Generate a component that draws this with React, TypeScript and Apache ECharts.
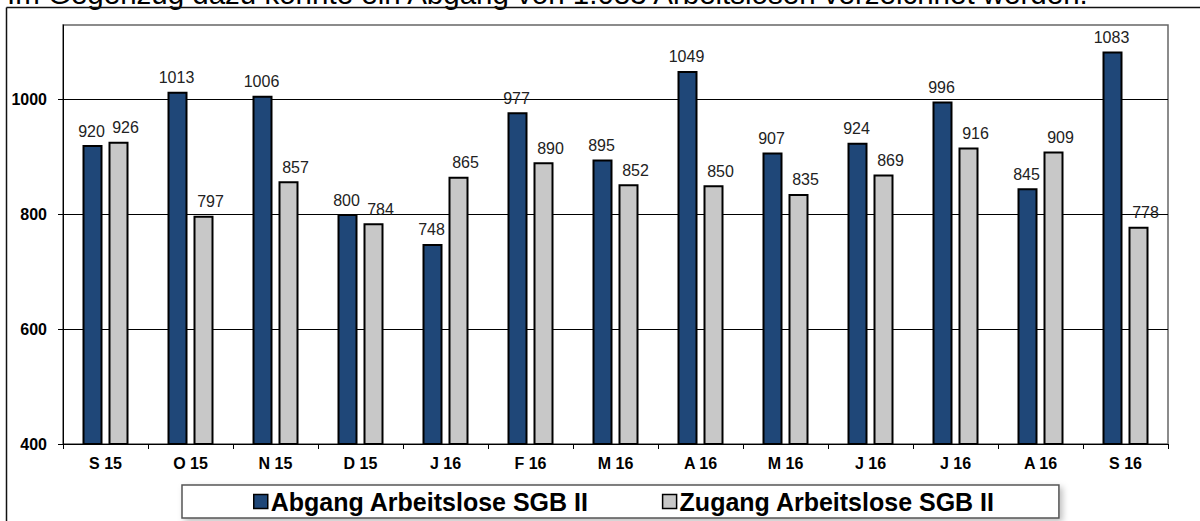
import React, { useEffect, useRef } from "react";
import * as echarts from "echarts";

const categories = ["S 15", "O 15", "N 15", "D 15", "J 16", "F 16", "M 16", "A 16", "M 16", "J 16", "J 16", "A 16", "S 16"];
const abgang = [920, 1013, 1006, 800, 748, 977, 895, 1049, 907, 924, 996, 845, 1083];
const zugang = [926, 797, 857, 784, 865, 890, 852, 850, 835, 869, 916, 909, 778];
const yTicks = [400, 600, 800, 1000];
const seriesNames = ["Abgang Arbeitslose SGB II", "Zugang Arbeitslose SGB II"];
const headline = "Im Gegenzug dazu konnte ein Abgang von 1.083 Arbeitslosen verzeichnet werden.";

const FONT = "'Liberation Sans', Arial, sans-serif";

export default function App() {
  const ref = useRef<HTMLDivElement>(null);
  useEffect(() => {
    if (!ref.current) return;
    const chart = echarts.init(ref.current, undefined, { renderer: "svg" });
    const labelStyle = {
      show: true,
      position: "top" as const,
      distance: 6,
      fontFamily: FONT,
      fontSize: 16,
      color: "#222",
    };
    chart.setOption({
      animation: false,
      backgroundColor: "#fff",
      textStyle: { fontFamily: FONT },
      grid: {
        left: 63,
        right: 32,
        top: 25,
        bottom: 77,
        show: true,
        borderColor: "#666",
        borderWidth: 1.5,
        backgroundColor: "transparent",
      },
      legend: {
        left: 182,
        top: 485,
        orient: "horizontal",
        padding: [4, 64, 4, 71],
        itemGap: 73,
        itemWidth: 14,
        itemHeight: 14,
        icon: "rect",
        borderColor: "#555",
        borderWidth: 1.5,
        backgroundColor: "#fff",
        shadowColor: "rgba(0,0,0,0.25)",
        shadowBlur: 6,
        shadowOffsetX: 3,
        shadowOffsetY: 3,
        itemStyle: { borderColor: "#000", borderWidth: 1.5 },
        textStyle: {
          fontFamily: FONT,
          fontSize: 25,
          fontWeight: "bold",
          color: "#000",
          lineHeight: 22,
          padding: [0, 0, 0, -2],
        },
        data: seriesNames,
      },
      xAxis: {
        type: "category",
        data: categories,
        axisLine: { show: true, lineStyle: { color: "#000", width: 1 } },
        axisTick: { show: true, alignWithLabel: false, length: 5, lineStyle: { color: "#000" } },
        axisLabel: {
          fontFamily: FONT,
          fontSize: 16,
          fontWeight: "bold",
          color: "#000",
          margin: 11,
          interval: 0,
        },
        splitLine: { show: false },
      },
      yAxis: {
        type: "value",
        min: 400,
        max: 1129,
        interval: 200,
        axisLine: { show: true, lineStyle: { color: "#000", width: 1 } },
        axisTick: { show: true, length: 5, lineStyle: { color: "#000" }, customValues: yTicks },
        axisLabel: {
          fontFamily: FONT,
          fontSize: 16,
          fontWeight: "bold",
          color: "#000",
          margin: 16,
          customValues: yTicks,
          formatter: (v: number) => String(v),
        },
        splitLine: {
          show: true,
          showMinLine: false,
          lineStyle: { color: "#000", width: 1 },
        },
      },
      series: [
        {
          name: seriesNames[0],
          type: "bar",
          data: abgang,
          barWidth: 20,
          barGap: "30%",
          itemStyle: { color: "#1F4778", borderColor: "#000", borderWidth: 2 },
          label: { ...labelStyle, offset: [-1, 0] },
        },
        {
          name: seriesNames[1],
          type: "bar",
          data: zugang,
          barWidth: 20,
          barGap: "30%",
          itemStyle: { color: "#C8C8C8", borderColor: "#000", borderWidth: 2 },
          label: { ...labelStyle, offset: [7, 0] },
        },
      ],
      graphic: [
        {
          type: "text",
          x: 7,
          y: -7,
          silent: true,
          style: {
            text: headline,
            fontFamily: FONT,
            fontSize: 29.5,
            fill: "#000",
            verticalAlign: "middle",
          },
        },
        {
          type: "line",
          silent: true,
          shape: { x1: 6.5, y1: 7.5, x2: 1200, y2: 7.5 },
          style: { stroke: "#111", lineWidth: 1.5 },
        },
        {
          type: "line",
          silent: true,
          shape: { x1: 6.5, y1: 7.5, x2: 6.5, y2: 521 },
          style: { stroke: "#111", lineWidth: 1.5 },
        },
      ],
    });
    return () => chart.dispose();
  }, []);
  return (
    <div
      ref={ref}
      style={{ position: "fixed", left: 0, top: 0, width: 1200, height: 521 }}
    />
  );
}
